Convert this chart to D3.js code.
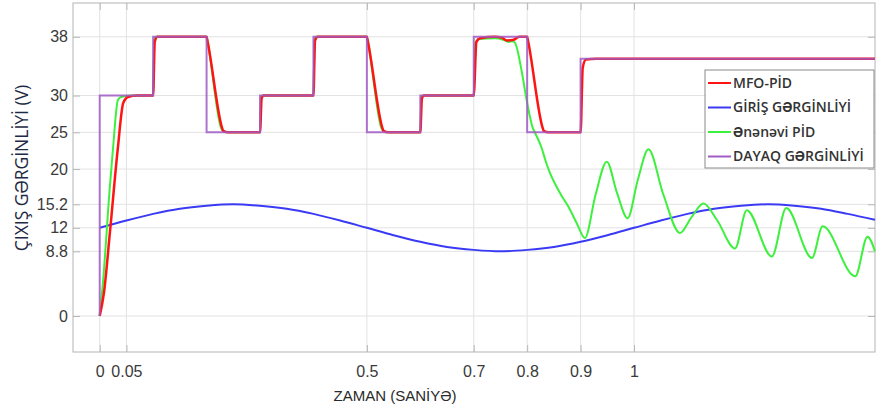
<!DOCTYPE html>
<html>
<head>
<meta charset="utf-8">
<script src="https://cdn.jsdelivr.net/npm/d3@7"></script>
<style>
    body { margin: 0; background: #fff; }
</style>
</head>
<body>
<div id="container"></div>
<script>
// time (s), voltage (V) pairs
const mfoPid = [[0,0],[0.008,3.2],[0.019,11.3],[0.034,22.9],[0.044,29],[0.053,29.8],[0.07,30],[0.1,30],[0.103,37.3],[0.108,38],
    [0.2,38],[0.2015,37.5],[0.229,25.6],[0.231,25.2],[0.24,25],[0.3,25],[0.303,29.6],[0.307,30],[0.4,30],[0.403,37.5],[0.408,38],
    [0.5,38],[0.5015,37.5],[0.529,25.6],[0.531,25.2],[0.54,25],[0.6,25],[0.603,29.6],[0.607,30],[0.7,30],[0.705,37.3],
    [0.712,37.8],[0.74,38],[0.752,37.9],[0.762,37.5],[0.775,37.6],[0.785,38],[0.8,38],[0.8015,37.5],[0.829,25.6],[0.831,25.2],
    [0.84,25],[0.9,25],[0.904,33.8],[0.91,34.9],[0.93,35],[1.451,35]];

const girisVolt = [[0,12],[0.05,13],[0.1,13.9],[0.15,14.6],[0.2,15],[0.25,15.2],[0.3,15],[0.35,14.6],[0.4,13.9],[0.45,13],
    [0.5,12],[0.55,11],[0.6,10.1],[0.65,9.4],[0.7,9],[0.75,8.8],[0.8,9],[0.85,9.4],[0.9,10.1],[0.95,11],[1,12],[1.05,13],
    [1.1,13.9],[1.15,14.6],[1.2,15],[1.25,15.2],[1.3,15],[1.35,14.6],[1.4,13.9],[1.451,13.1]];

const klassikPid = [[0,0],[0.006,4.5],[0.019,17.6],[0.025,22.9],[0.034,29.4],[0.04,29.8],[0.06,30],[0.1,30],[0.102,37.6],[0.105,38],
    [0.2,38],[0.2015,37.5],[0.227,25.6],[0.229,25.3],[0.24,25],[0.3,25],[0.302,29.8],[0.305,30],[0.4,30],[0.402,37.7],[0.405,38],
    [0.5,38],[0.5015,37.5],[0.527,25.6],[0.529,25.3],[0.54,25],[0.6,25],[0.602,29.8],[0.605,30],[0.7,30],[0.703,37.2],[0.71,37.7],
    [0.74,37.8],[0.755,37.6],[0.765,37.3],[0.772,37.4],[0.777,37.2],[0.79,33.2],[0.799,29.4],[0.805,27.2],[0.81,25.7],
    [0.815,24.9],[0.827,22.9],[0.835,21],[0.843,19.4],[0.855,17.6],[0.865,16.3],[0.877,14.9],[0.893,12.6],[0.908,10.6],
    [0.928,16.5],[0.949,21],[0.968,16.8],[0.988,13.3],[1.007,18.5],[1.027,22.7],[1.055,16.5],[1.086,11.3],[1.108,13.5],
    [1.13,15.3],[1.155,13.1],[1.189,9.2],[1.211,14.4],[1.258,8.1],[1.285,14.7],[1.333,7.9],[1.353,12.2],[1.414,5.4],
    [1.437,10.8],[1.451,8.8]];

// reference is a step signal: value holds from each time to the next
const dayaqTime = [0, 0, 0.1, 0.2, 0.3, 0.4, 0.5, 0.6, 0.7, 0.8, 0.9, 1.451];
const dayaqVolt = [0, 30, 38, 25, 30, 38, 25, 30, 38, 25, 35, 35];

const xTicks = [0, 0.05, 0.5, 0.7, 0.8, 0.9, 1];
const yTicks = [0, 8.8, 12, 15.2, 20, 25, 30, 38];

const legendNames = ["MFO-PİD", "GİRİŞ GƏRGİNLİYİ", "Ənənəvi PİD", "DAYAQ GƏRGİNLİYİ"];
const legendColors = ["#ff1414", "#3a3af5", "#3ef03e", "#a05cc4"];

document.addEventListener("DOMContentLoaded", function () {

    const width = 876;
    const height = 411;
    const left = 73, right = 875, top = 3, bottom = 352;
    const tickFont = "Liberation Sans, Arial, sans-serif";

    const svg = d3.select("#container").append("svg")
        .attr("width", width)
        .attr("height", height);

    //----------------------------SCALES-----------------------------//

    const xScale = d3.scaleLinear().domain([-0.05, 1.451]).range([left, right]);
    const yScale = d3.scaleLinear().domain([-4.9, 42.6]).range([bottom, top]);

    //-----------------------------GRID------------------------------//

    svg.append("g").selectAll("line").data(xTicks).enter().append("line")
        .attr("x1", d => xScale(d)).attr("x2", d => xScale(d))
        .attr("y1", top).attr("y2", bottom)
        .attr("stroke", "#e2e2e2").attr("stroke-width", 1);

    svg.append("g").selectAll("line").data(yTicks).enter().append("line")
        .attr("x1", left).attr("x2", right)
        .attr("y1", d => yScale(d)).attr("y2", d => yScale(d))
        .attr("stroke", "#e2e2e2").attr("stroke-width", 1);

    //-----------------------------AXES------------------------------//

    const yaxis = d3.axisLeft(yScale).tickValues(yTicks).tickSize(-7).tickPadding(5).tickFormat(d => String(d));
    const xaxis = d3.axisBottom(xScale).tickValues(xTicks).tickSize(-7).tickPadding(14).tickFormat(d => String(d));

    svg.append("g").attr("transform", "translate(" + left + ",0)").call(yaxis);
    svg.append("g").attr("transform", "translate(0," + bottom + ")").call(xaxis);
    svg.append("g").attr("transform", "translate(" + right + ",0)")
        .call(d3.axisRight(yScale).tickValues(yTicks).tickSize(-7).tickFormat(""));
    svg.append("g").attr("transform", "translate(0," + top + ")")
        .call(d3.axisTop(xScale).tickValues(xTicks).tickSize(-7).tickFormat(""));

    svg.selectAll(".domain").remove();
    svg.selectAll(".tick line").attr("stroke", "#b8b8b8");
    svg.selectAll(".tick text")
        .attr("font-family", tickFont)
        .attr("font-size", 16)
        .attr("fill", "#3a3a3a");

    svg.append("rect")
        .attr("x", left).attr("y", top)
        .attr("width", right - left).attr("height", bottom - top)
        .attr("fill", "none").attr("stroke", "#b4b4b4").attr("stroke-width", 1);

    svg.append("text")
        .attr("transform", "translate(28," + 168 + ") rotate(-90)")
        .attr("text-anchor", "middle")
        .attr("font-family", "Open Sans, sans-serif")
        .attr("font-size", 17.5)
        .attr("fill", "#1e2a44")
        .text("ÇIXIŞ GƏRGİNLİYİ (V)");

    svg.append("text")
        .attr("x", 395).attr("y", 401)
        .attr("text-anchor", "middle")
        .attr("font-family", tickFont)
        .attr("font-size", 15)
        .attr("fill", "#2a2a2a")
        .text("ZAMAN (SANİYƏ)");

    //----------------------------LINES------------------------------//

    const smooth = d3.line()
        .x(d => xScale(d[0]))
        .y(d => yScale(d[1]))
        .curve(d3.curveMonotoneX);

    const step = d3.line()
        .x(d => xScale(d[0]))
        .y(d => yScale(d[1]))
        .curve(d3.curveStepAfter);

    const dayaq = dayaqTime.map((t, i) => [t, dayaqVolt[i]]);

    const plot = svg.append("g");

    plot.append("path").attr("d", smooth(girisVolt))
        .attr("fill", "none").attr("stroke", legendColors[1]).attr("stroke-width", 2);
    plot.append("path").attr("d", smooth(klassikPid))
        .attr("fill", "none").attr("stroke", legendColors[2]).attr("stroke-width", 2);
    plot.append("path").attr("d", smooth(mfoPid))
        .attr("fill", "none").attr("stroke", legendColors[0]).attr("stroke-width", 2.5);
    plot.append("path").attr("d", step(dayaq))
        .attr("fill", "none").attr("stroke", legendColors[3]).attr("stroke-width", 2)
        .attr("stroke-opacity", 0.85);

    //----------------------------LEGEND-----------------------------//

    const legend = svg.append("g").attr("transform", "translate(705,70)");

    legend.append("rect")
        .attr("width", 169).attr("height", 98)
        .attr("fill", "#fff").attr("stroke", "#8a8a8a").attr("stroke-width", 1);

    const items = legend.selectAll(".item").data(legendNames).enter().append("g")
        .attr("transform", (d, i) => "translate(0," + (13 + i * 24.5) + ")");

    items.append("line")
        .attr("x1", 3).attr("x2", 26)
        .attr("stroke", (d, i) => legendColors[i]).attr("stroke-width", 2);

    items.append("text")
        .attr("x", 28).attr("dy", "0.35em")
        .attr("font-family", "Open Sans, sans-serif")
        .attr("font-weight", 600)
        .attr("font-size", 14)
        .attr("fill", "#333")
        .text(d => d);

});
</script>
</body>
</html>
